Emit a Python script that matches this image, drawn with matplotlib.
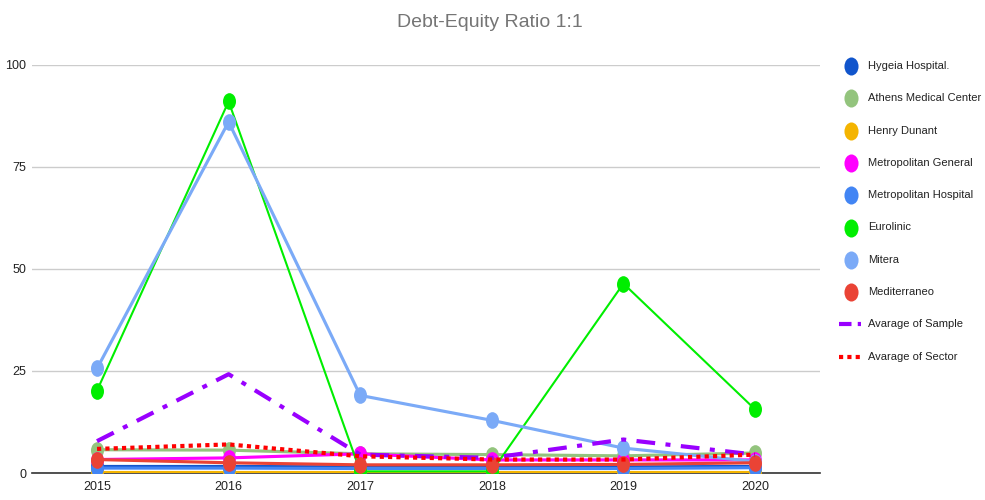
import matplotlib.pyplot as plt
from matplotlib.path import Path
from matplotlib.transforms import Affine2D
from matplotlib.lines import Line2D

plt.rcParams['font.family'] = ['Liberation Sans', 'DejaVu Sans']

years = [2015, 2016, 2017, 2018, 2019, 2020]

hygeia = [1.6, 1.6, 1.5, 1.5, 1.5, 1.6]
athens = [5.7, 5.6, 4.7, 4.5, 4.2, 4.9]
henry_dunant = [0.3, 0.3, 0.3, 0.3, 0.3, 0.3]
metro_general = [3.3, 3.7, 4.7, 3.2, 3.2, 3.2]
metro_hospital = [1.2, 1.2, 1.1, 1.1, 1.1, 1.3]
eurolinic = [20.2, 91.0, 0.4, 0.4, 46.4, 15.6]
mitera = [25.6, 86.0, 19.0, 12.9, 6.1, 2.8]
mediterraneo = [3.3, 2.5, 2.0, 2.0, 2.1, 2.5]
avg_sample = [7.8, 24.2, 4.5, 3.7, 8.2, 4.5]
avg_sector = [5.9, 7.0, 4.1, 3.3, 3.3, 4.5]

hospitals = [
    ('Hygeia Hospital.', hygeia, '#1155cc', 3),
    ('Athens Medical Center', athens, '#93c47d', 3),
    ('Henry Dunant', henry_dunant, '#f4b400', 3),
    ('Metropolitan General', metro_general, '#ff00ff', 3),
    ('Metropolitan Hospital', metro_hospital, '#4285f4', 3),
    ('Eurolinic', eurolinic, '#00ee00', 2),
    ('Mitera', mitera, '#7baaf7', 3),
    ('Mediterraneo', mediterraneo, '#ea4335', 3),
]

# slightly tall ellipse marker like the original
ell = Path.unit_circle().transformed(Affine2D().scale(0.78, 1.0))

fig = plt.figure(figsize=(9.85, 5), dpi=100)
ax = fig.add_axes([0.0325, 0.054, 0.80, 0.8166])

for name, vals, col, lw in hospitals:
    ax.plot(years, vals, color=col, lw=lw * 0.75, marker=ell, markersize=12,
            markeredgewidth=0, zorder=3)

ax.plot(years, avg_sample, color='#9900ff', lw=3, linestyle=(0, (4.5, 2.5, 1.2, 2.5)), zorder=4)
ax.plot(years, avg_sector, color='#ff0000', lw=3, linestyle=(0, (1, 1)), zorder=4)

ax.set_xlim(2014.506, 2020.494)
ax.set_ylim(0, 100)
ax.set_yticks([0, 25, 50, 75, 100])
ax.set_xticks(years)
ax.set_xticklabels([str(y) for y in years])
ax.yaxis.grid(True, color='#cccccc', lw=1)
ax.set_axisbelow(True)
for s in ['top', 'right', 'left']:
    ax.spines[s].set_visible(False)
ax.spines['bottom'].set_color('#333333')
ax.spines['bottom'].set_linewidth(1.2)
ax.spines['bottom'].set_zorder(2)
ax.tick_params(length=0, labelsize=9, colors='#222222')
ax.tick_params(axis='y', pad=4)
ax.tick_params(axis='x', pad=6)

fig.text(0.497, 0.955, 'Debt-Equity Ratio 1:1', ha='center', va='center',
         fontsize=14, color='#757575')

# legend
row0 = 500 - 66
step = 32.3
labels = [h[0] for h in hospitals] + ['Avarage of Sample', 'Avarage of Sector']
for i, lab in enumerate(labels):
    yf = (row0 - i * step) / 500
    if i < len(hospitals):
        fig.add_artist(Line2D([851 / 985], [yf], marker=ell, markersize=13,
                              color=hospitals[i][2], markeredgewidth=0,
                              transform=fig.transFigure))
    elif i == len(hospitals):
        fig.add_artist(Line2D([839 / 985, 861 / 985], [yf, yf], color='#9900ff', lw=3,
                              linestyle=(0, (3, 1.5, 1, 1.5)), transform=fig.transFigure))
    else:
        fig.add_artist(Line2D([839 / 985, 861 / 985], [yf, yf], color='#ff0000', lw=3,
                              linestyle=(0, (1, 1)), transform=fig.transFigure))
    fig.text(868 / 985, yf, lab, ha='left', va='center', fontsize=8, color='#222222')

fig.savefig('out.png', dpi=100)
